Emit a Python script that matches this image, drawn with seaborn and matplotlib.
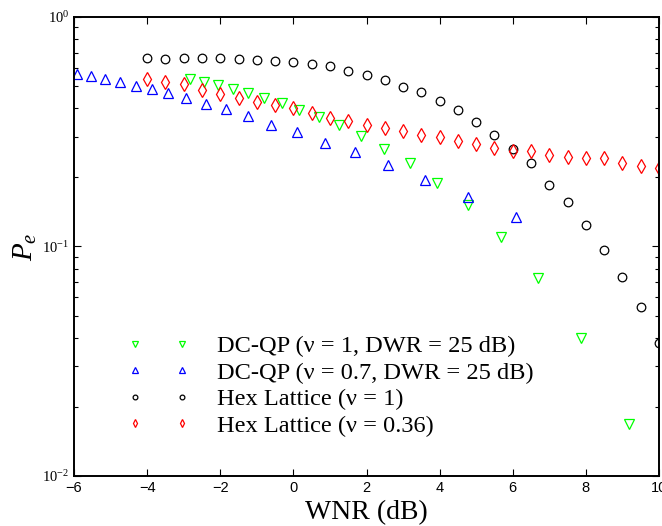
import numpy as np
import pandas as pd
import seaborn as sns
import matplotlib
matplotlib.use("Agg")
import matplotlib.pyplot as plt

# DC-QP (nu = 1, DWR = 25 dB)
wnr_dcqp1 = [-2.82, -2.45, -2.05, -1.65, -1.23, -0.80, -0.32, 0.16, 0.69, 1.26,
             1.85, 2.49, 3.19, 3.94, 4.78, 5.68, 6.70, 7.86, 9.19]
pe_dcqp1 = [0.537, 0.523, 0.505, 0.486, 0.468, 0.445, 0.422, 0.395, 0.368, 0.338,
            0.302, 0.266, 0.230, 0.190, 0.152, 0.110, 0.0727, 0.0398, 0.0169]

# DC-QP (nu = 0.7, DWR = 25 dB)
wnr_dcqp07 = [-5.91, -5.54, -5.15, -4.75, -4.31, -3.87, -3.44, -2.93, -2.39, -1.83,
              -1.24, -0.60, 0.10, 0.86, 1.69, 2.60, 3.61, 4.78, 6.10]
pe_dcqp07 = [0.566, 0.553, 0.535, 0.521, 0.502, 0.484, 0.465, 0.442, 0.419, 0.397,
             0.370, 0.338, 0.315, 0.282, 0.257, 0.226, 0.195, 0.165, 0.135]

# Hex lattice, WNR from -4 to 10 dB in 0.5 dB steps
wnr_hex = [-4.0, -3.5, -3.0, -2.5, -2.0, -1.5, -1.0, -0.5, 0.0, 0.5, 1.0, 1.5,
           2.0, 2.5, 3.0, 3.5, 4.0, 4.5, 5.0, 5.5, 6.0, 6.5, 7.0, 7.5, 8.0,
           8.5, 9.0, 9.5, 10.0]
pe_hex1 = [0.665, 0.658, 0.661, 0.661, 0.661, 0.654, 0.650, 0.643, 0.635, 0.622,
           0.611, 0.584, 0.561, 0.533, 0.496, 0.471, 0.429, 0.392, 0.350, 0.306,
           0.266, 0.232, 0.186, 0.156, 0.124, 0.0966, 0.0736, 0.0547, 0.0381]
pe_hex036 = [0.537, 0.519, 0.509, 0.482, 0.462, 0.442, 0.428, 0.414, 0.400, 0.382,
             0.364, 0.352, 0.339, 0.327, 0.319, 0.307, 0.299, 0.287, 0.279, 0.269,
             0.261, 0.261, 0.251, 0.246, 0.242, 0.242, 0.231, 0.225, 0.220]

labels = ["DC-QP (ν = 1, DWR = 25 dB)",
          "DC-QP (ν = 0.7, DWR = 25 dB)",
          "Hex Lattice (ν = 1)",
          "Hex Lattice (ν = 0.36)"]

sns.set_style("ticks")
plt.rcParams["font.family"] = ["Liberation Serif", "DejaVu Serif"]
plt.rcParams["mathtext.fontset"] = "custom"
plt.rcParams["mathtext.rm"] = "Liberation Sans"
plt.rcParams["mathtext.it"] = "Liberation Serif:italic"
for key in ["text.color", "axes.labelcolor", "xtick.color", "ytick.color",
            "axes.edgecolor"]:
    plt.rcParams[key] = "black"

fig = plt.figure(figsize=(6.62, 5.26), dpi=100)
ax = fig.add_axes([0.1118, 0.0951, 0.8837, 0.8726])

series = [
    (wnr_dcqp1, pe_dcqp1, "v", 7, "#00ff00", labels[0]),
    (wnr_dcqp07, pe_dcqp07, "^", 7, "#0000ff", labels[1]),
    (wnr_hex, pe_hex1, "o", 6.2, "black", labels[2]),
    (wnr_hex, pe_hex036, "d", 7.5, "#ff0000", labels[3]),
]
for x, y, m, ms, c, lab in series:
    df = pd.DataFrame({"wnr": x, "pe": y})
    sns.lineplot(data=df, x="wnr", y="pe", ax=ax, estimator=None, sort=False,
                 linestyle="", marker=m, markersize=ms, markerfacecolor="none",
                 markeredgecolor=c, markeredgewidth=0.9, color=c, label=lab)

ax.set_yscale("log")
ax.set_xlim(-6, 10)
ax.set_ylim(1e-2, 1)
ax.set_xticks(np.arange(-6, 11, 2))
ax.tick_params(which="both", direction="in", top=True, right=True,
               labelsize=10.5, width=0.8, colors="black")
ax.tick_params(which="major", length=5)
ax.tick_params(which="minor", length=3)
ax.xaxis.set_major_formatter(matplotlib.ticker.FuncFormatter(
    lambda v, p: f"{int(v)}".replace("-", "\u2212")))
for s in ax.spines.values():
    s.set_linewidth(1.4)
    s.set_color("black")

ax.set_xlabel("WNR (dB)", fontsize=20, labelpad=3.5)
ax.set_ylabel(r"$P_e$", fontsize=21, labelpad=2)

ax.legend(loc="lower left", bbox_to_anchor=(0.054, 0.037), frameon=False,
          numpoints=2, markerscale=0.55, handlelength=2.52, handletextpad=1.12,
          labelspacing=0.18, fontsize=17.6, labelcolor="black")

for t in ax.get_xticklabels():
    t.set_fontfamily("Liberation Sans")

fig.savefig("out.png", dpi=100)
